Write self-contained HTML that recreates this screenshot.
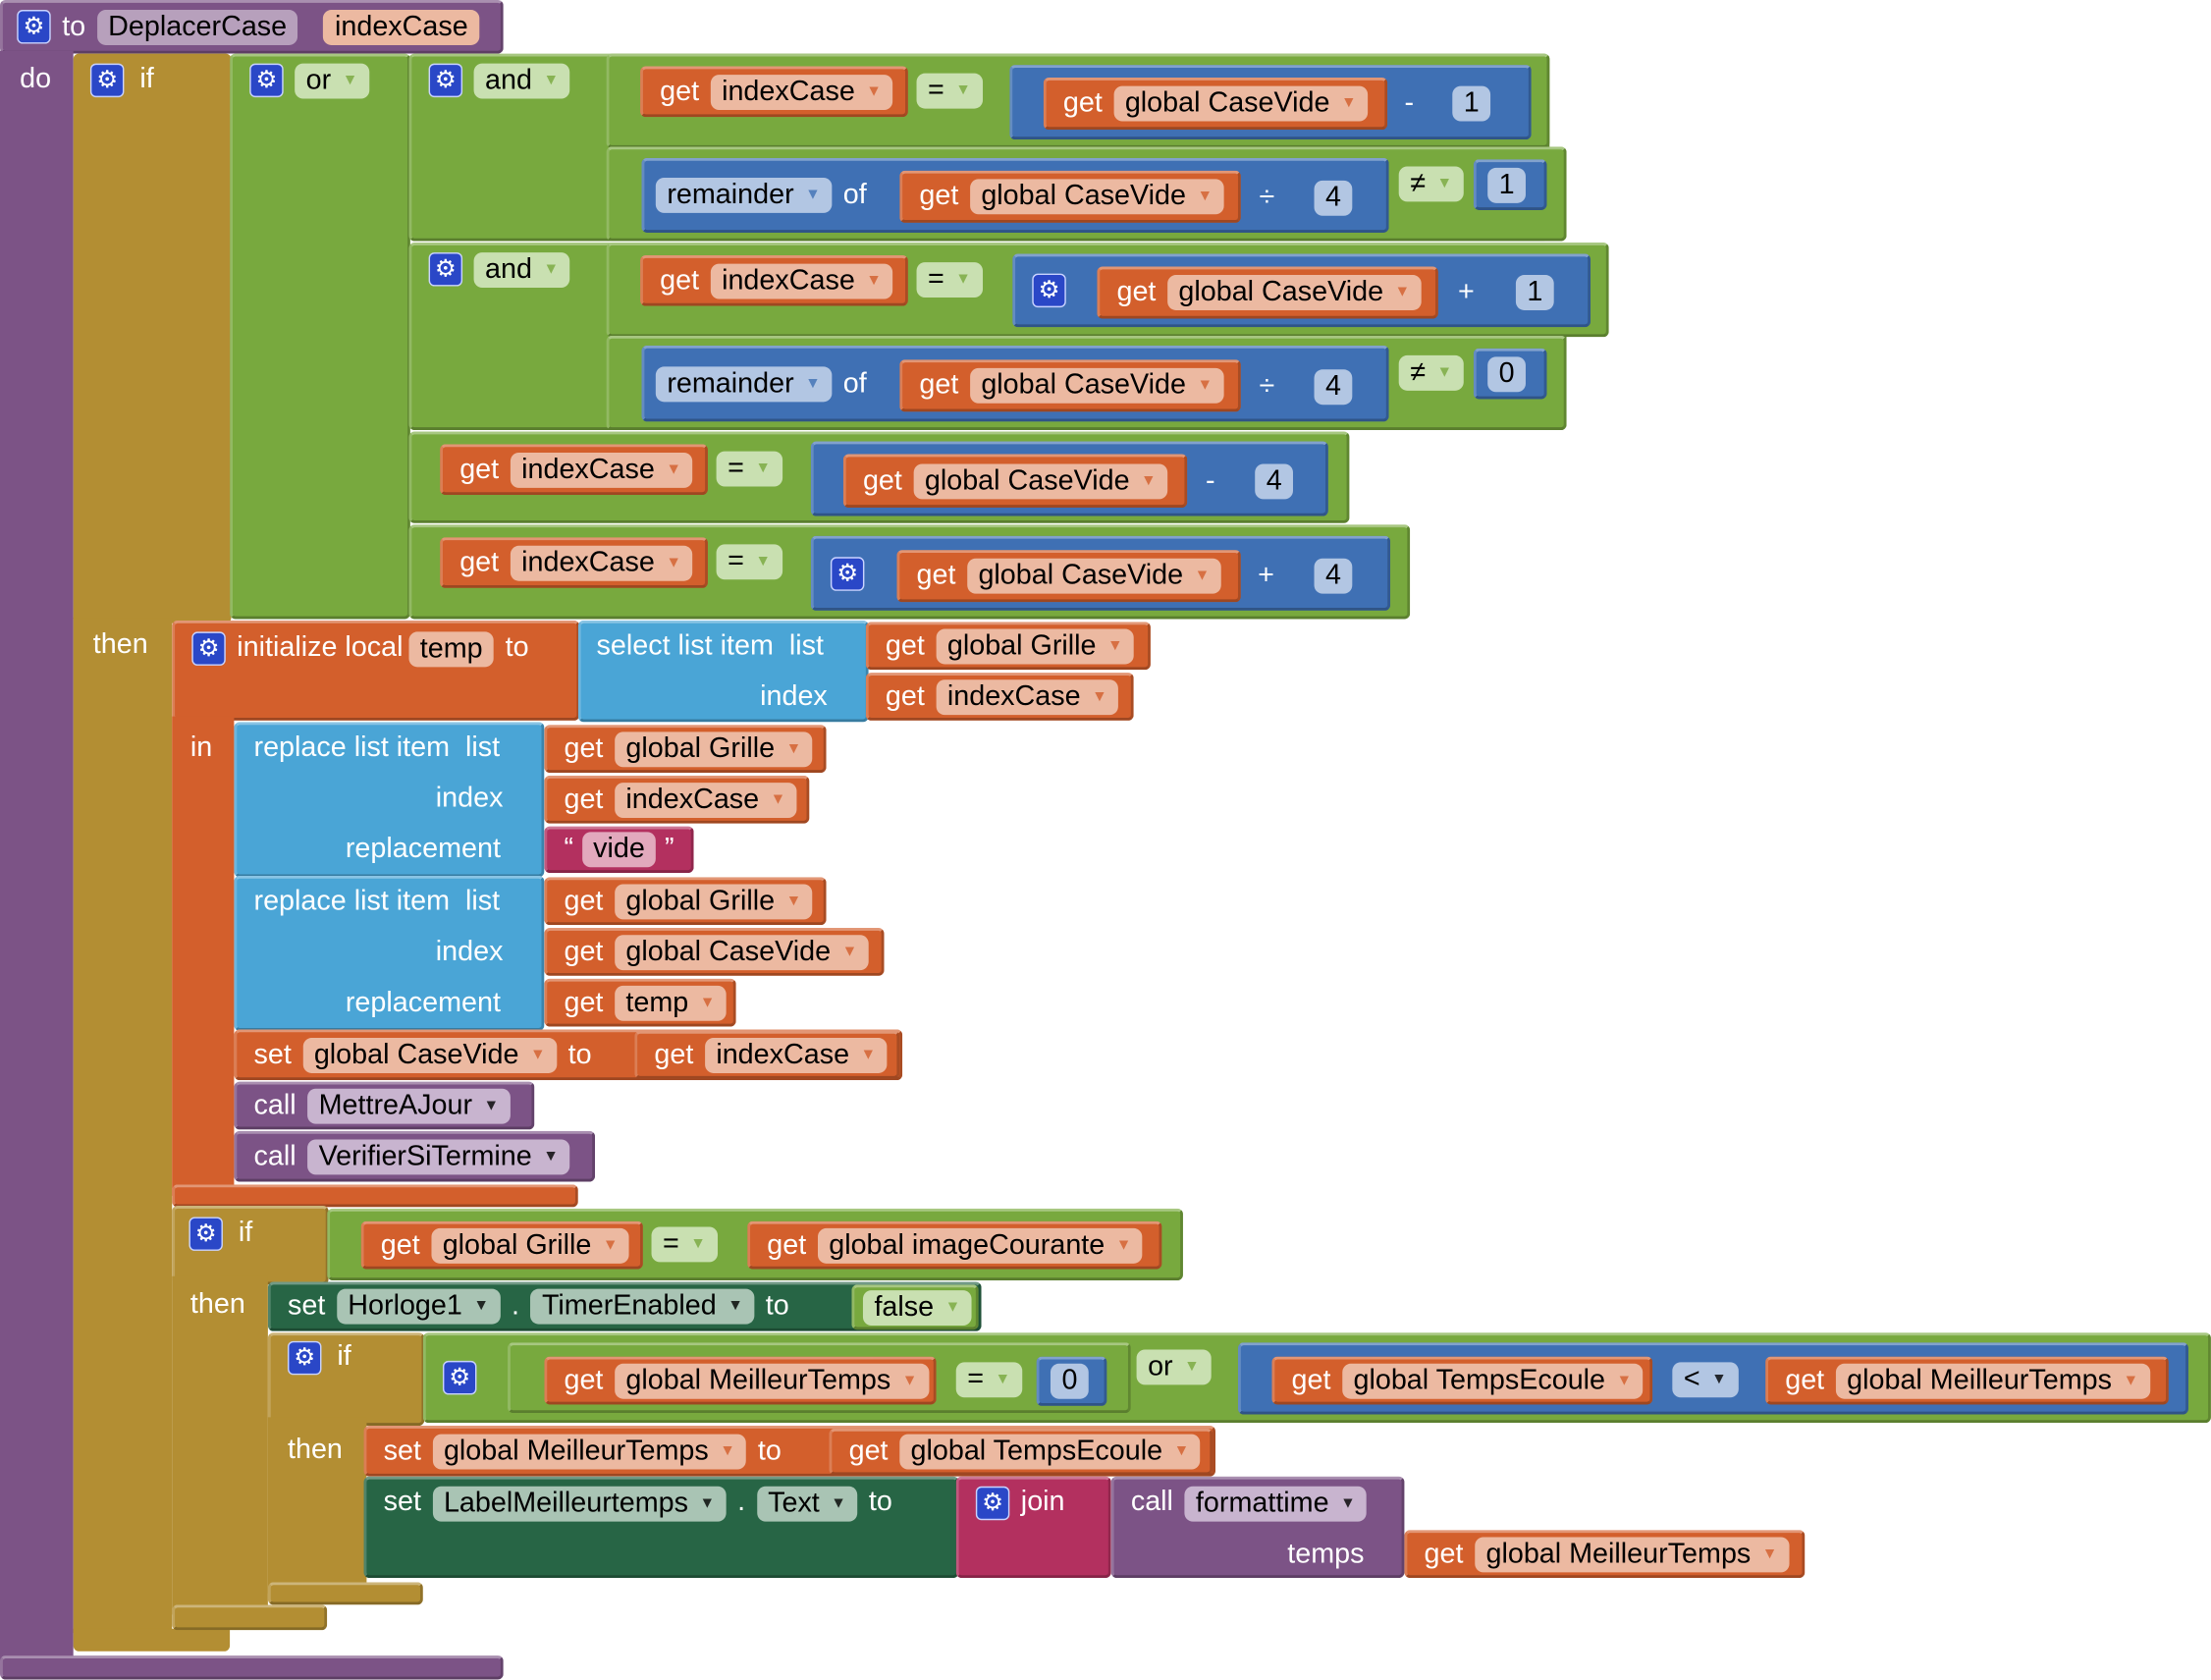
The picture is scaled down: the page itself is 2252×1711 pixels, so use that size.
<!DOCTYPE html>
<html><head><meta charset="utf-8"><style>
body{margin:0;width:2252px;height:1710px;overflow:hidden;background:#fff}
#s{position:absolute;left:0;top:0;width:1568px;height:1191px;transform:scale(1.4362);transform-origin:0 0;font-family:"Liberation Sans",sans-serif;font-size:20px}
.b{position:absolute;box-sizing:border-box;border-radius:4px;display:flex;align-items:center;gap:8px;padding:0 8px 0 12px;color:#fff;white-space:nowrap;border-top:2px solid rgba(255,255,255,.35);border-left:2px solid rgba(255,255,255,.2);border-bottom:2px solid rgba(0,0,0,.25);border-right:2px solid rgba(0,0,0,.2)}
.o{background:#D35F2C}.gr{background:#78A93E}.bl{background:#3F70B4}.pu{background:#7C5386}.go{background:#B38E33}.li{background:#4AA5D6}.tx{background:#B3305F}.dg{background:#276545}
.f{display:inline-block;border-radius:6px;color:#000;padding:0 8px;height:25px;line-height:25px;background:rgba(255,255,255,.6)}
.f i{font-style:normal;font-size:11px;margin-left:8px;vertical-align:middle;opacity:.8}
.o .f{color:#000}.bl .f i{color:#3F70B4}.o .f i{color:#D35F2C}.gr .f i{color:#78A93E}
.t{position:absolute;color:#fff;line-height:24px;white-space:nowrap}
.g{display:inline-block;width:22px;height:22px;border-radius:4px;background:#2a47c7;border:1px solid #c9d3ff;color:#fff;text-align:center;line-height:22px;font-size:17px;font-family:"DejaVu Sans",sans-serif}
.ab{position:absolute}
</style></head><body><div id="s">
<div class="b pu" style="left:0;top:0;width:357px;height:38px;padding-left:10px"><span class="g">⚙</span><span>to</span><span class="f" style="background:rgba(255,255,255,.45)">DeplacerCase</span><span class="f" style="background:#ECB9A1;margin-left:10px">indexCase</span></div>
<div class="ab pu" style="left:0;top:36px;width:52px;height:1146px"></div>
<div class="b pu" style="left:0;top:1174px;width:357px;height:17px"></div>
<div class="t" style="left:14px;top:44px">do</div>
<div class="ab go" style="left:52px;top:38px;width:112px;height:404px;border-radius:4px"></div>
<div class="ab go" style="left:52px;top:438px;width:70px;height:720px"></div>
<div class="ab go" style="left:52px;top:1155px;width:111px;height:16px;border-radius:0 0 4px 4px"></div>
<div class="t" style="left:64px;top:44px"><span class="g">⚙</span>&nbsp;&nbsp;if</div>
<div class="t" style="left:66px;top:445px">then</div>
<div class="b gr" style="left:163px;top:38px;width:128px;height:401px;align-items:flex-start;padding-top:5px"><span class="g">⚙</span><span class="f" style="background:#C9E0B1">or<i>▼</i></span></div>
<div class="b gr" style="left:290px;top:38px;width:809px;height:133px;align-items:flex-start;padding-top:5px"><span class="g">⚙</span><span class="f" style="background:#C9E0B1">and<i>▼</i></span></div>
<div class="b gr" style="left:430px;top:38px;width:669px;height:67px"></div>
<div class="b gr" style="left:430px;top:104px;width:681px;height:67px"></div>
<div class="b o" style="left:454px;top:47px;width:190px;height:36px"><span>get</span><span class="f" style="background:#ECB9A1">indexCase<i>▼</i></span></div>
<div class="ab" style="left:650px;top:52px"><span class="f" style="background:#C9E0B1">=<i style="color:#78A93E">▼</i></span></div>
<div class="b bl" style="left:716px;top:46px;width:370px;height:53px"></div>
<div class="b o" style="left:740px;top:55px;width:244px;height:37px"><span>get</span><span class="f" style="background:#ECB9A1">global CaseVide<i>▼</i></span></div>
<div class="t" style="left:996px;top:61px">-</div>
<div class="ab" style="left:1030px;top:61px"><span class="f" style="background:#B2C6E3;padding:0 8px">1</span></div>
<div class="b bl" style="left:455px;top:112px;width:530px;height:53px;padding-left:8px"><span class="f" style="background:#B2C6E3">remainder<i>▼</i></span><span>of</span></div>
<div class="b o" style="left:638px;top:121px;width:242px;height:37px"><span>get</span><span class="f" style="background:#ECB9A1">global CaseVide<i>▼</i></span></div>
<div class="t" style="left:893px;top:128px">÷</div>
<div class="ab" style="left:932px;top:128px"><span class="f" style="background:#B2C6E3">4</span></div>
<div class="ab" style="left:992px;top:118px"><span class="f" style="background:#C9E0B1">≠<i style="color:#78A93E">▼</i></span></div>
<div class="b bl" style="left:1045px;top:113px;width:52px;height:36px"><span class="f" style="background:#B2C6E3;margin-left:-4px">1</span></div>
<div class="b gr" style="left:290px;top:172px;width:821px;height:133px;align-items:flex-start;padding-top:5px"><span class="g">⚙</span><span class="f" style="background:#C9E0B1">and<i>▼</i></span></div>
<div class="b gr" style="left:430px;top:172px;width:711px;height:67px"></div>
<div class="b gr" style="left:430px;top:238px;width:681px;height:67px"></div>
<div class="b o" style="left:454px;top:181px;width:190px;height:36px"><span>get</span><span class="f" style="background:#ECB9A1">indexCase<i>▼</i></span></div>
<div class="ab" style="left:650px;top:186px"><span class="f" style="background:#C9E0B1">=<i style="color:#78A93E">▼</i></span></div>
<div class="b bl" style="left:718px;top:180px;width:410px;height:52px"><span class="g">⚙</span></div>
<div class="b o" style="left:778px;top:189px;width:242px;height:37px"><span>get</span><span class="f" style="background:#ECB9A1">global CaseVide<i>▼</i></span></div>
<div class="t" style="left:1034px;top:195px">+</div>
<div class="ab" style="left:1075px;top:195px"><span class="f" style="background:#B2C6E3">1</span></div>
<div class="b bl" style="left:455px;top:245px;width:530px;height:54px;padding-left:8px"><span class="f" style="background:#B2C6E3">remainder<i>▼</i></span><span>of</span></div>
<div class="b o" style="left:638px;top:255px;width:242px;height:37px"><span>get</span><span class="f" style="background:#ECB9A1">global CaseVide<i>▼</i></span></div>
<div class="t" style="left:893px;top:262px">÷</div>
<div class="ab" style="left:932px;top:262px"><span class="f" style="background:#B2C6E3">4</span></div>
<div class="ab" style="left:992px;top:252px"><span class="f" style="background:#C9E0B1">≠<i style="color:#78A93E">▼</i></span></div>
<div class="b bl" style="left:1045px;top:247px;width:52px;height:36px"><span class="f" style="background:#B2C6E3;margin-left:-4px">0</span></div>
<div class="b gr" style="left:290px;top:306px;width:667px;height:65px"></div>
<div class="b o" style="left:312px;top:315px;width:190px;height:36px"><span>get</span><span class="f" style="background:#ECB9A1">indexCase<i>▼</i></span></div>
<div class="ab" style="left:508px;top:320px"><span class="f" style="background:#C9E0B1">=<i style="color:#78A93E">▼</i></span></div>
<div class="b bl" style="left:575px;top:313px;width:367px;height:53px"></div>
<div class="b o" style="left:598px;top:322px;width:244px;height:38px"><span>get</span><span class="f" style="background:#ECB9A1">global CaseVide<i>▼</i></span></div>
<div class="t" style="left:855px;top:329px">-</div>
<div class="ab" style="left:890px;top:329px"><span class="f" style="background:#B2C6E3">4</span></div>
<div class="b gr" style="left:290px;top:372px;width:710px;height:67px"></div>
<div class="b o" style="left:312px;top:381px;width:190px;height:36px"><span>get</span><span class="f" style="background:#ECB9A1">indexCase<i>▼</i></span></div>
<div class="ab" style="left:508px;top:386px"><span class="f" style="background:#C9E0B1">=<i style="color:#78A93E">▼</i></span></div>
<div class="b bl" style="left:575px;top:380px;width:411px;height:53px"><span class="g">⚙</span></div>
<div class="b o" style="left:636px;top:390px;width:244px;height:37px"><span>get</span><span class="f" style="background:#ECB9A1">global CaseVide<i>▼</i></span></div>
<div class="t" style="left:892px;top:396px">+</div>
<div class="ab" style="left:932px;top:396px"><span class="f" style="background:#B2C6E3">4</span></div>
<div class="b o" style="left:122px;top:440px;width:289px;height:71px;align-items:flex-start;padding-top:6px"><span class="g">⚙</span><span>initialize local</span><span class="f" style="background:#ECB9A1;margin-left:-4px">temp</span><span>to</span></div>
<div class="ab o" style="left:122px;top:508px;width:44px;height:340px"></div>
<div class="b o" style="left:122px;top:840px;width:288px;height:16px"></div>
<div class="t" style="left:135px;top:518px">in</div>
<div class="b li" style="left:410px;top:440px;width:206px;height:72px"></div>
<div class="t" style="left:423px;top:446px">select list item&nbsp; list</div>
<div class="t" style="left:539px;top:482px">index</div>
<div class="b o" style="left:614px;top:441px;width:202px;height:34px"><span>get</span><span class="f" style="background:#ECB9A1">global Grille<i>▼</i></span></div>
<div class="b o" style="left:614px;top:477px;width:190px;height:34px"><span>get</span><span class="f" style="background:#ECB9A1">indexCase<i>▼</i></span></div>
<div class="b li" style="left:166px;top:512px;width:220px;height:110px"></div>
<div class="t" style="left:180px;top:518px">replace list item&nbsp; list</div>
<div class="t" style="left:309px;top:554px">index</div>
<div class="t" style="left:245px;top:590px">replacement</div>
<div class="b o" style="left:386px;top:514px;width:200px;height:34px"><span>get</span><span class="f" style="background:#ECB9A1">global Grille<i>▼</i></span></div>
<div class="b o" style="left:386px;top:550px;width:188px;height:34px"><span>get</span><span class="f" style="background:#ECB9A1">indexCase<i>▼</i></span></div>
<div class="b tx" style="left:386px;top:586px;width:106px;height:33px;gap:6px"><span>“</span><span class="f" style="background:#E2A9BD">vide</span><span>”</span></div>
<div class="b li" style="left:166px;top:621px;width:220px;height:110px"></div>
<div class="t" style="left:180px;top:627px">replace list item&nbsp; list</div>
<div class="t" style="left:309px;top:663px">index</div>
<div class="t" style="left:245px;top:699px">replacement</div>
<div class="b o" style="left:386px;top:622px;width:200px;height:34px"><span>get</span><span class="f" style="background:#ECB9A1">global Grille<i>▼</i></span></div>
<div class="b o" style="left:386px;top:658px;width:241px;height:34px"><span>get</span><span class="f" style="background:#ECB9A1">global CaseVide<i>▼</i></span></div>
<div class="b o" style="left:386px;top:694px;width:136px;height:34px"><span>get</span><span class="f" style="background:#ECB9A1">temp<i>▼</i></span></div>
<div class="b o" style="left:166px;top:730px;width:474px;height:36px"><span>set</span><span class="f" style="background:#ECB9A1">global CaseVide<i>▼</i></span><span>to</span></div>
<div class="b o" style="left:450px;top:731px;width:188px;height:34px"><span>get</span><span class="f" style="background:#ECB9A1">indexCase<i>▼</i></span></div>
<div class="b pu" style="left:166px;top:767px;width:213px;height:34px"><span>call</span><span class="f" style="background:#C8B4CF">MettreAJour<i>▼</i></span></div>
<div class="b pu" style="left:166px;top:802px;width:256px;height:36px"><span>call</span><span class="f" style="background:#C8B4CF">VerifierSiTermine<i>▼</i></span></div>
<div class="b go" style="left:122px;top:855px;width:111px;height:56px"></div>
<div class="ab go" style="left:122px;top:905px;width:68px;height:240px"></div>
<div class="b go" style="left:122px;top:1138px;width:110px;height:18px"></div>
<div class="t" style="left:134px;top:862px"><span class="g">⚙</span>&nbsp;&nbsp;if</div>
<div class="t" style="left:135px;top:913px">then</div>
<div class="b gr" style="left:232px;top:857px;width:607px;height:51px"></div>
<div class="b o" style="left:256px;top:866px;width:200px;height:34px"><span>get</span><span class="f" style="background:#ECB9A1">global Grille<i>▼</i></span></div>
<div class="ab" style="left:462px;top:870px"><span class="f" style="background:#C9E0B1">=<i style="color:#78A93E">▼</i></span></div>
<div class="b o" style="left:530px;top:866px;width:294px;height:34px"><span>get</span><span class="f" style="background:#ECB9A1">global imageCourante<i>▼</i></span></div>
<div class="b dg" style="left:190px;top:909px;width:506px;height:35px"><span>set</span><span class="f" style="background:#A9C4B4">Horloge1<i>▼</i></span><span>.</span><span class="f" style="background:#A9C4B4">TimerEnabled<i>▼</i></span><span>to</span></div>
<div class="b gr" style="left:604px;top:911px;width:90px;height:32px;padding-left:6px"><span class="f" style="background:#C9E0B1">false<i>▼</i></span></div>
<div class="b go" style="left:190px;top:945px;width:111px;height:66px"></div>
<div class="ab go" style="left:190px;top:1005px;width:70px;height:125px"></div>
<div class="b go" style="left:190px;top:1122px;width:110px;height:16px"></div>
<div class="t" style="left:204px;top:950px"><span class="g">⚙</span>&nbsp;&nbsp;if</div>
<div class="t" style="left:204px;top:1016px">then</div>
<div class="b gr" style="left:300px;top:945px;width:1268px;height:64px;padding-left:12px"><span class="g">⚙</span></div>
<div class="b gr" style="left:360px;top:952px;width:442px;height:50px"></div>
<div class="b o" style="left:386px;top:962px;width:278px;height:34px"><span>get</span><span class="f" style="background:#ECB9A1">global MeilleurTemps<i>▼</i></span></div>
<div class="ab" style="left:678px;top:966px"><span class="f" style="background:#C9E0B1">=<i style="color:#78A93E">▼</i></span></div>
<div class="b bl" style="left:735px;top:962px;width:50px;height:35px"><span class="f" style="background:#B2C6E3;margin-left:-4px">0</span></div>
<div class="ab" style="left:806px;top:957px"><span class="f" style="background:#C9E0B1">or<i style="color:#78A93E">▼</i></span></div>
<div class="b bl" style="left:878px;top:952px;width:674px;height:51px"></div>
<div class="b o" style="left:902px;top:962px;width:270px;height:34px"><span>get</span><span class="f" style="background:#ECB9A1">global TempsEcoule<i>▼</i></span></div>
<div class="ab" style="left:1186px;top:966px"><span class="f" style="background:#B2C6E3">&lt;<i>▼</i></span></div>
<div class="b o" style="left:1252px;top:962px;width:286px;height:34px"><span>get</span><span class="f" style="background:#ECB9A1">global MeilleurTemps<i>▼</i></span></div>
<div class="b o" style="left:258px;top:1011px;width:604px;height:36px"><span>set</span><span class="f" style="background:#ECB9A1">global MeilleurTemps<i>▼</i></span><span>to</span></div>
<div class="b o" style="left:588px;top:1013px;width:272px;height:33px"><span>get</span><span class="f" style="background:#ECB9A1">global TempsEcoule<i>▼</i></span></div>
<div class="b dg" style="left:258px;top:1047px;width:422px;height:72px;align-items:flex-start;padding-top:5px"><span>set</span><span class="f" style="background:#A9C4B4">LabelMeilleurtemps<i>▼</i></span><span>.</span><span class="f" style="background:#A9C4B4">Text<i>▼</i></span><span>to</span></div>
<div class="b tx" style="left:678px;top:1047px;width:110px;height:72px;align-items:flex-start;padding-top:5px"><span class="g">⚙</span><span>join</span></div>
<div class="b pu" style="left:788px;top:1047px;width:208px;height:72px;align-items:flex-start;padding-top:5px"><span>call</span><span class="f" style="background:#C8B4CF">formattime<i>▼</i></span></div>
<div class="t" style="left:913px;top:1090px">temps</div>
<div class="b o" style="left:996px;top:1085px;width:284px;height:34px"><span>get</span><span class="f" style="background:#ECB9A1">global MeilleurTemps<i>▼</i></span></div>
</div></body></html>
